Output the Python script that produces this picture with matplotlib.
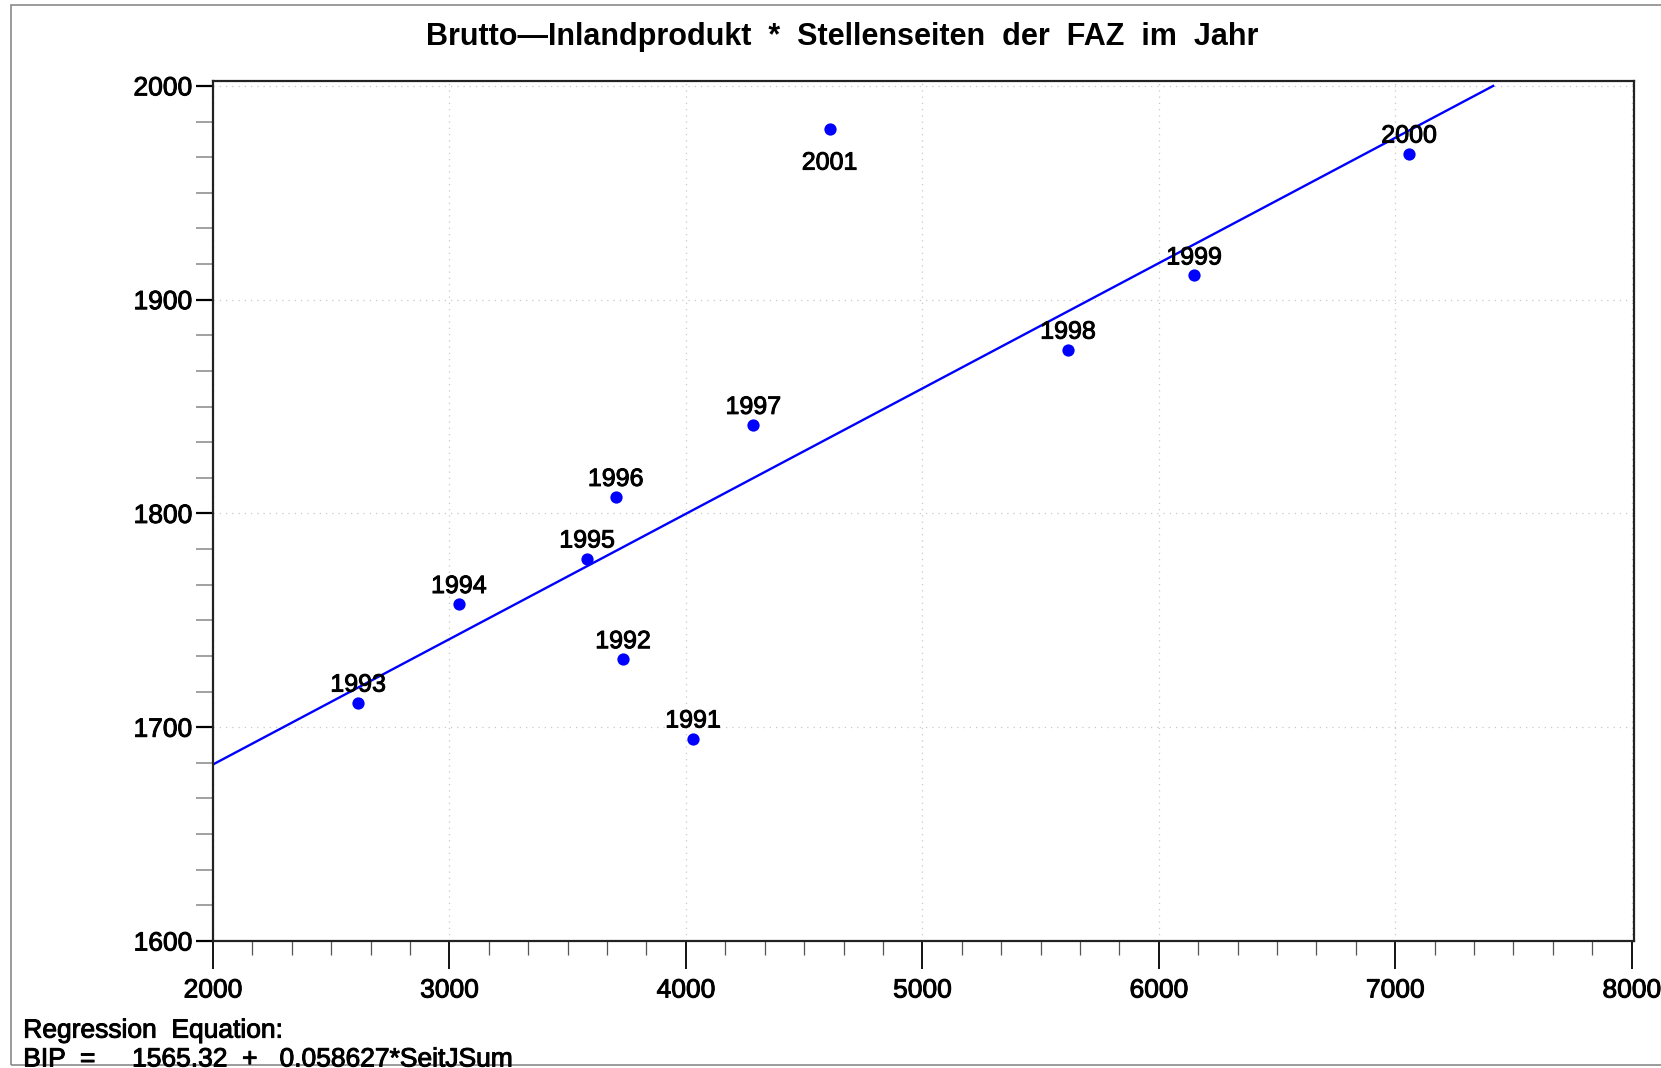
"""Scatter of BIP vs. Stellenseiten with regression line (SAS-style)."""
import matplotlib
matplotlib.use("Agg")
import matplotlib.pyplot as plt
import matplotlib.patches as mpatches
import matplotlib.patheffects as pe
from matplotlib.ticker import MultipleLocator, AutoMinorLocator

# ── data ────────────────────────────────────────────────────────────────────
years = ["1991", "1992", "1993", "1994", "1995", "1996",
         "1997", "1998", "1999", "2000", "2001"]
seiten = [4030, 3734, 2614, 3040, 3582, 3703, 4285, 5616, 6149, 7059, 4608]
bip = [1694.7, 1731.8, 1711.5, 1757.6, 1778.9, 1807.7,
       1841.4, 1876.6, 1911.3, 1968.3, 1979.7]
# label offsets (points): most above, 2001 below
label_dy = [13, 13, 13, 13, 13, 13, 13, 13, 13, 13, -24]

INTERCEPT = 1565.32
SLOPE = 0.058627
line_x = [2000, 7414]

plt.rcParams["font.family"] = ["Liberation Sans", "DejaVu Sans"]
thick = [pe.withStroke(linewidth=0.7, foreground="black")]

fig = plt.figure(figsize=(16.61, 10.68), dpi=100)
ax = fig.add_axes([0.1282, 0.1189, 0.9838 - 0.1282, 0.9246 - 0.1189])

# regression line
line_y = [INTERCEPT + SLOPE * x for x in line_x]
ax.plot(line_x, line_y, color="#0000ff", lw=1.7, zorder=2)

# points
ax.scatter(seiten, bip, s=78, color="#0000ff", zorder=3, linewidths=0)
for x, y, lab, dy in zip(seiten, bip, years, label_dy):
    ax.annotate(lab, (x, y), xytext=(0, dy), textcoords="offset points",
                ha="center", va="center", fontsize=18, color="black",
                zorder=4, path_effects=thick)

ax.set_xlim(2000, 8010)
ax.set_ylim(1600, 2002.5)
ax.xaxis.set_major_locator(MultipleLocator(1000))
ax.yaxis.set_major_locator(MultipleLocator(100))
ax.xaxis.set_minor_locator(AutoMinorLocator(6))
ax.yaxis.set_minor_locator(AutoMinorLocator(6))

ax.grid(True, which="major", ls=(0, (1, 4)), color="#c8c8c8", lw=0.9)
ax.set_axisbelow(True)

ax.tick_params(axis="y", which="major", direction="out", length=12, width=1.6,
               labelsize=19, pad=3, color="black")
ax.tick_params(axis="y", which="minor", direction="out", length=12, width=1.3,
               color="#9a9a9a")
ax.tick_params(axis="x", which="major", direction="out", length=20, width=1.3,
               labelsize=19, pad=7, color="black")
ax.tick_params(axis="x", which="minor", direction="out", length=10, width=0.9,
               color="#555555")
for lbl in ax.get_xticklabels() + ax.get_yticklabels():
    lbl.set_path_effects(thick)
for sp in ax.spines.values():
    sp.set_linewidth(1.6)
    sp.set_color("#222222")

fig.text(0.507, 0.965, "Brutto\u2014Inlandprodukt  *  Stellenseiten  der  FAZ  im  Jahr",
         ha="center", va="center", fontsize=22, fontweight="bold")

fig.text(0.014, 0.035, "Regression  Equation:", ha="left", va="center",
         fontsize=19, path_effects=thick)
fig.text(0.014, 0.008, "BIP  =     1565.32  +   0.058627*SeitJSum",
         ha="left", va="center", fontsize=19, path_effects=thick)

# thin frame around the graph area
fig.patches.append(mpatches.Rectangle((0.0065, 0.003), 1.0, 0.992,
                                      transform=fig.transFigure, fill=False,
                                      edgecolor="#8a8a8a", lw=1.2))

fig.savefig("out.png", dpi=100)
